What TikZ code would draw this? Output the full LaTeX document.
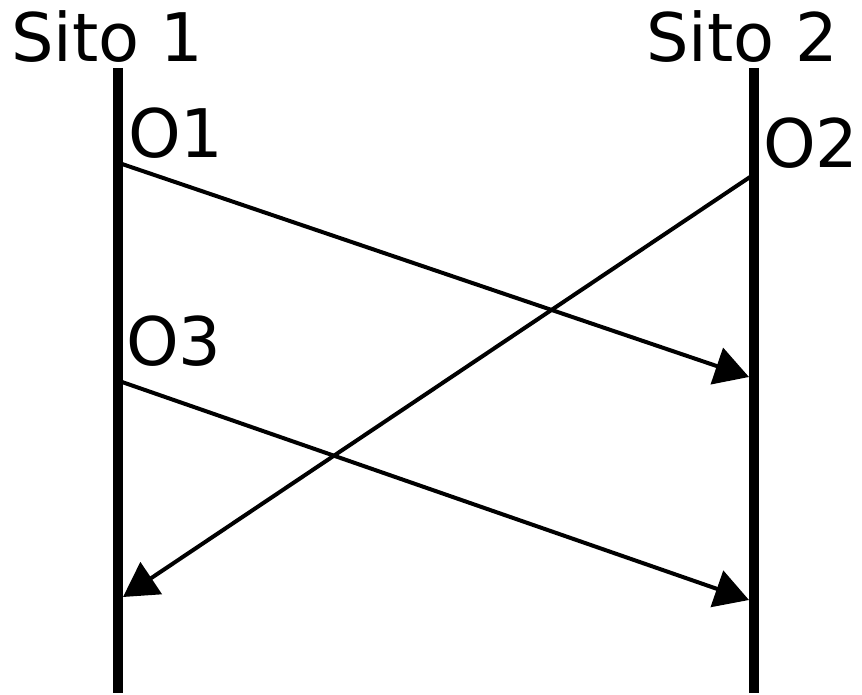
\documentclass[tikz,border=0pt]{standalone}
\usepackage{fontspec}
\setmainfont{DejaVu Sans}
\usetikzlibrary{arrows.meta}
\begin{document}
\begin{tikzpicture}[x=1pt,y=-1pt,
  lbl/.style={anchor=base west,inner sep=0pt,font=\fontsize{67}{80}\selectfont},
  lifeline/.style={line width=10pt},
  msg/.style={line width=4pt,-{Triangle[length=34pt,width=38pt]}}]
\useasboundingbox (0,0) rectangle (862,695);
\coordinate (L1top) at (118,68);
\coordinate (L1bot) at (118,693);
\coordinate (L2top) at (754,68);
\coordinate (L2bot) at (754,693);
\draw[lifeline] (L1top) -- (L1bot);
\draw[lifeline] (L2top) -- (L2bot);
\node[lbl] (s1) at (11,62) {Sito 1};
\node[lbl] (s2) at (646,62) {Sito 2};
\node[lbl] (o1) at (128,158) {O1};
\node[lbl] (o2) at (763,168) {O2};
\node[lbl] (o3) at (126,365) {O3};
\coordinate (a1s) at (122,164);
\coordinate (a1e) at (749,377);
\coordinate (a2s) at (750,177);
\coordinate (a2e) at (123,597);
\coordinate (a3s) at (122,382);
\coordinate (a3e) at (749,600);
\draw[msg] (a1s) -- (a1e);
\draw[msg] (a2s) -- (a2e);
\draw[msg] (a3s) -- (a3e);
\end{tikzpicture}
\end{document}
